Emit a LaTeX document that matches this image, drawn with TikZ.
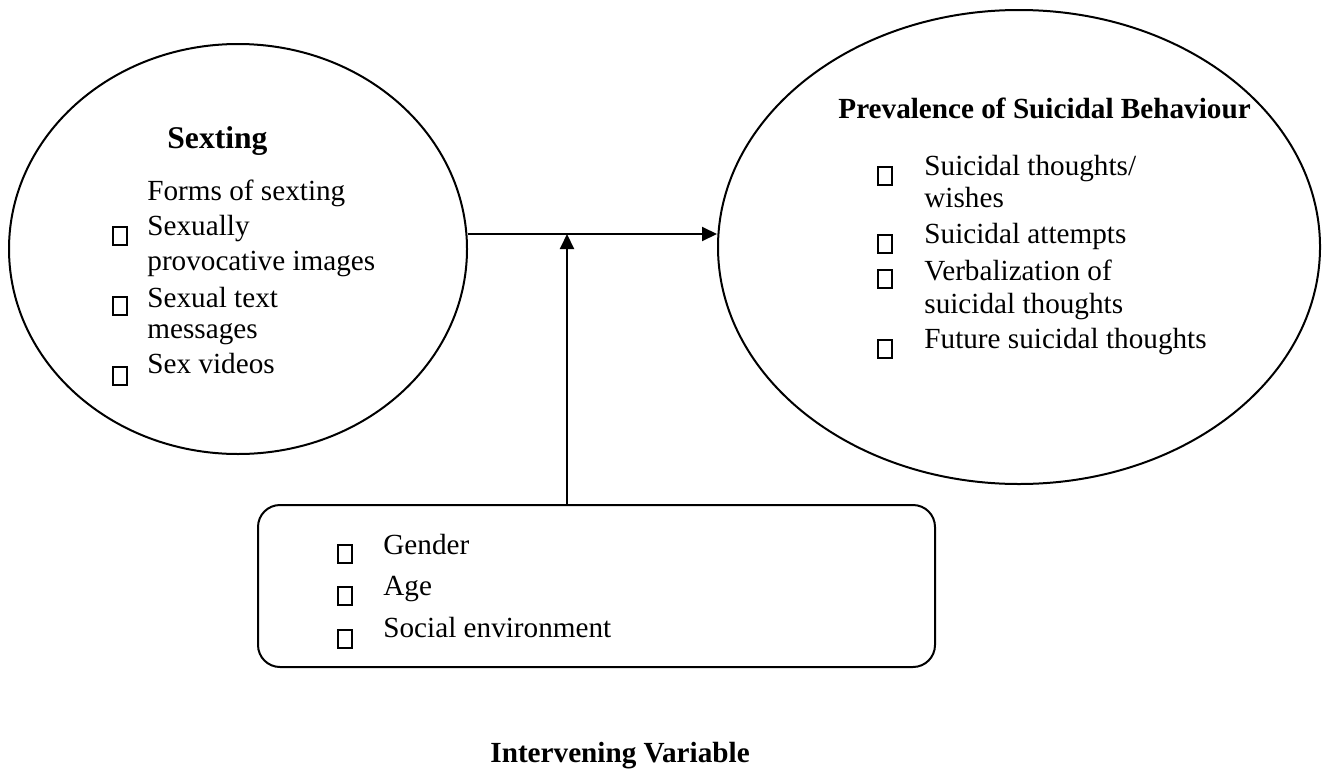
\documentclass[tikz,border=0pt]{standalone}
\usepackage{fontspec}
\setmainfont{Liberation Serif}
\usetikzlibrary{arrows.meta,positioning,shapes.geometric}

\begin{document}
\begin{tikzpicture}[x=0.5pt,y=-0.5pt,
  every node/.style={font=\fontsize{14.6}{17}\selectfont,inner sep=0pt},
  oval/.style={draw,ellipse,line width=1pt},
  arr/.style={line width=1pt,-{Triangle[length=7.5pt,width=7pt]}},
  bul/.style={line width=0.8pt},
  item/.style={anchor=base west},
  head/.style={anchor=base west,font=\fontsize{14.6}{17}\selectfont\bfseries}]
\useasboundingbox (0,0) rectangle (1326,771);
% the three blocks
\node[oval,minimum width=229pt,minimum height=205pt] (sexting) at (238,249) {};
\node[oval,minimum width=301pt,minimum height=237pt] (prevalence) at (1019,247) {};
\node[draw,line width=1pt,rounded corners=11pt,minimum width=338.5pt,minimum height=81pt] (intervene) at (596.5,586) {};
% left oval
\node[head,font=\fontsize{15.8}{18}\selectfont\bfseries] (sexhead) at (167,148) {Sexting};
\foreach \y/\t [count=\i] in {200/Forms of sexting,235/Sexually,270/provocative images,307/Sexual text,338/messages,373/Sex videos}
  \node[item] (s\i) at (147,\y) {\t};
\foreach \y in {227,297,367} \draw[bul] (113,\y) rectangle ++(14,18);
% right oval
\node[head] (prevhead) at (838,118) {Prevalence of Suicidal Behaviour};
\foreach \y/\t [count=\i] in {175/{Suicidal thoughts/},207/wishes,243/Suicidal attempts,280/Verbalization of,313/suicidal thoughts,348/Future suicidal thoughts}
  \node[item] (p\i) at (924,\y) {\t};
\foreach \y in {167,235,270,340} \draw[bul] (878,\y) rectangle ++(14,18);
% box
\foreach \y/\t [count=\i] in {554/Gender,595/Age,637/Social environment}
  \node[item] (v\i) at (383,\y) {\t};
\foreach \y in {545,587,630} \draw[bul] (338,\y) rectangle ++(14,18);
\node[head] (ivlabel) at (490,762) {Intervening Variable};
% arrows
\coordinate (join) at (567,234);
\draw[arr] (join -| sexting.east) -- (join -| prevalence.west);
\draw[arr] (join |- intervene.north) -- (join);
\end{tikzpicture}
\end{document}
